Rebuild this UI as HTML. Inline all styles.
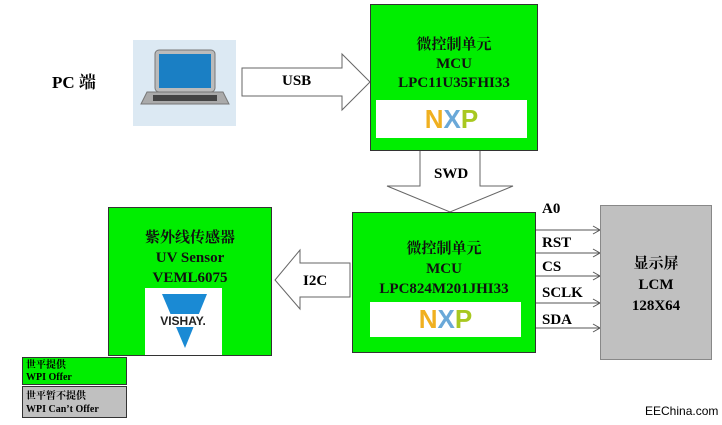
<!DOCTYPE html>
<html><head><meta charset="utf-8"><style>
body{margin:0;width:722px;height:425px;background:#fff;position:relative;overflow:hidden;font-family:"Liberation Serif","Noto Serif CJK SC",serif;}
.a{position:absolute}
.g{position:absolute;background:#00ee00;border:1px solid #333;box-sizing:border-box;text-align:center;color:#111;}
.t{font-size:15px;line-height:20px;font-weight:bold}
</style></head><body>
<div class="a" style="left:52px;top:68px;font-size:17px;font-weight:bold">PC 端</div>
<div class="a" style="left:133px;top:40px;width:103px;height:86px;background:#dce9f3">
<svg width="103" height="86"><rect x="22" y="10" width="60" height="42" rx="4" fill="#bbb" stroke="#777"/><rect x="26" y="14" width="52" height="34" fill="#1a7fc4"/><path d="M14 52h76l6 12H8z" fill="#aaa" stroke="#777"/><rect x="20" y="55" width="64" height="6" fill="#444"/></svg></div>
<svg class="a" style="left:0;top:0" width="722" height="425">
<polygon points="242,68 342,68 342,54 370,82 342,110 342,96 242,96" fill="#fff" stroke="#666"/>
<polygon points="420,150 480,150 480,186 513,186 450,212 387,186 420,186" fill="#fff" stroke="#666"/>
<polygon points="350,263 300,263 300,250 275,280 300,309 300,297 350,297" fill="#fff" stroke="#666"/>
<g stroke="#555" fill="none">
<path d="M535 230H600M593 226l7 4-7 4M535 253H600M593 249l7 4-7 4M535 276H600M593 272l7 4-7 4M535 303H600M593 299l7 4-7 4M535 328H600M593 324l7 4-7 4"/></g>
</svg>
<div class="a t" style="left:282px;top:71px">USB</div>
<div class="a t" style="left:434px;top:164px">SWD</div>
<div class="a t" style="left:303px;top:271px">I2C</div>
<div class="a t" style="left:542px;top:199px">A0</div>
<div class="a t" style="left:542px;top:233px">RST</div>
<div class="a t" style="left:542px;top:257px">CS</div>
<div class="a t" style="left:542px;top:283px">SCLK</div>
<div class="a t" style="left:542px;top:310px">SDA</div>
<div class="g t" style="left:370px;top:4px;width:168px;height:147px;padding-top:31px;line-height:19px">微控制单元<br>MCU<br>LPC11U35FHI33</div>
<div class="a" style="left:376px;top:100px;width:151px;height:38px;background:#fff"><div style="font:bold 26px 'Liberation Sans',sans-serif;text-align:center;line-height:38px"><span style="color:#f0b020">N</span><span style="color:#6aa8d8">X</span><span style="color:#a8c820">P</span></div></div>
<div class="g t" style="left:352px;top:212px;width:184px;height:141px;padding-top:26px">微控制单元<br>MCU<br>LPC824M201JHI33</div>
<div class="a" style="left:370px;top:302px;width:151px;height:35px;background:#fff"><div style="font:bold 26px 'Liberation Sans',sans-serif;text-align:center;line-height:35px"><span style="color:#f0b020">N</span><span style="color:#6aa8d8">X</span><span style="color:#a8c820">P</span></div></div>
<div class="g t" style="left:108px;top:207px;width:164px;height:149px;padding-top:20px">紫外线传感器<br>UV Sensor<br>VEML6075</div>
<div class="a" style="left:145px;top:288px;width:77px;height:67px;background:#fff">
<svg width="77" height="67"><polygon points="17,6 62,6 40,60" fill="#1a8ad4"/><rect x="8" y="26" width="61" height="13" fill="#fff"/><text x="38" y="37" text-anchor="middle" font-family="Liberation Sans" font-weight="bold" font-size="12" fill="#222">VISHAY.</text></svg></div>
<div class="a t" style="left:600px;top:205px;width:112px;height:155px;background:#c0c0c0;border:1px solid #888;box-sizing:border-box;text-align:center;padding-top:48px;line-height:21px">显示屏<br>LCM<br>128X64</div>
<div class="a" style="left:22px;top:357px;width:105px;height:28px;background:#00ee00;border:1px solid #333;box-sizing:border-box;font-size:10px;line-height:12px;padding:2px 3px;font-weight:bold">世平提供<br>WPI Offer</div>
<div class="a" style="left:22px;top:386px;width:105px;height:32px;background:#c0c0c0;border:1px solid #333;box-sizing:border-box;font-size:10px;line-height:13px;padding:3px 3px;font-weight:bold">世平暂不提供<br>WPI Can’t Offer</div>
<div class="a" style="left:645px;top:404px;font:12px 'Liberation Sans',sans-serif">EEChina.com</div>
</body></html>
